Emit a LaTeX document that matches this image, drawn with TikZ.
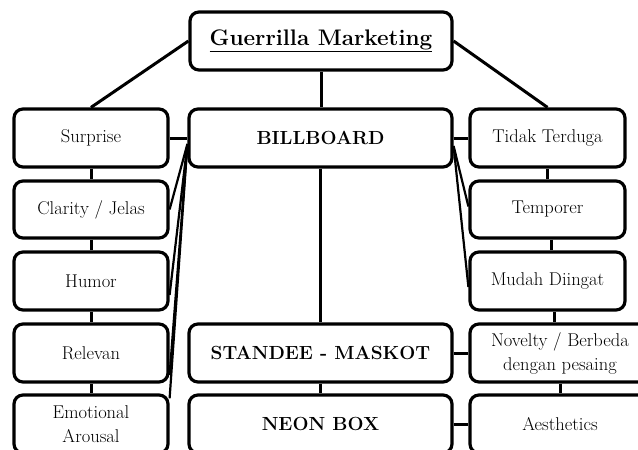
\documentclass[tikz,border=0pt]{standalone}
\usepackage{fontspec}
\begin{document}
\begin{tikzpicture}[x=1pt,y=-1pt,
  box/.style={draw, line width=3.2pt, rounded corners=9pt, inner sep=0pt, align=center,
    font=\fontsize{18.5}{24}\selectfont},
  bbox/.style={box, font=\fontsize{19}{24}\selectfont\bfseries},
  link/.style={line width=3pt},
  fan/.style={line width=2.2pt}]
\useasboundingbox (0,0) rectangle (638,450);
\clip (0,0) rectangle (638,450);
% boxes
\node[box, minimum width=262pt, minimum height=58pt, font=\fontsize{22.5}{26}\selectfont\bfseries] (gm) at (321,41) {\underline{Guerrilla Marketing}};
\node[box, minimum width=154pt, minimum height=58pt] (sur) at (91,138) {Surprise};
\node[box, minimum width=154pt, minimum height=57pt] (cla) at (91,209.5) {Clarity / Jelas};
\node[box, minimum width=154pt, minimum height=58pt] (hum) at (91,281) {Humor};
\node[box, minimum width=154pt, minimum height=58pt] (rel) at (91,353) {Relevan};
\node[box, minimum width=154pt, minimum height=58pt] (emo) at (91,424) {Emotional\\Arousal};
\node[bbox, minimum width=263pt, minimum height=58pt] (bil) at (320.5,138) {BILLBOARD};
\node[bbox, minimum width=263pt, minimum height=58pt] (sta) at (320.5,353) {STANDEE - MASKOT};
\node[bbox, minimum width=263pt, minimum height=58pt] (neo) at (320.5,424) {NEON BOX};
\node[box, minimum width=155pt, minimum height=58pt] (tid) at (547.5,138) {Tidak Terduga};
\node[box, minimum width=155pt, minimum height=57pt] (tem) at (547.5,209.5) {Temporer};
\node[box, minimum width=155pt, minimum height=58pt] (mud) at (547.5,281) {Mudah Diingat};
\node[box, minimum width=180pt, minimum height=58pt] (nov) at (560,353) {Novelty / Berbeda\\dengan pesaing};
\node[box, minimum width=180pt, minimum height=58pt] (aes) at (560,424) {Aesthetics};
% connectors
\draw[link] (gm.west) -- (sur.north);
\draw[link] (gm.east) -- (tid.north);
\draw[link] (gm.south) -- (gm.south |- bil.north);
\draw[link] (bil.south) -- (sta.north);
\draw[link] (sta.south) -- (neo.north);
\draw[link] (sur.east) -- (bil.west);
\draw[link] (bil.east) -- (tid.west);
\draw[link] (sta.east) -- (nov.west);
\draw[link] (neo.east) -- (aes.west);
\draw[link] (sur.south) -- (cla.north);
\draw[link] (cla.south) -- (hum.north);
\draw[link] (hum.south) -- (rel.north);
\draw[link] (rel.south) -- (emo.north);
\draw[link] (tid.south) -- (tem.north);
\draw[link] ([xshift=4pt]tem.south) -- ([xshift=4pt]tem.south |- mud.north);
\draw[link] ([xshift=7pt]mud.south) -- ([xshift=7pt]mud.south |- nov.north);
\draw[link] (nov.south) -- (aes.north);
% fan lines
\coordinate (bl) at ([yshift=-6pt]bil.west);
\coordinate (br) at ([yshift=-8pt]bil.east);
\draw[fan] (bl) -- (cla.east);
\draw[fan] (bl) -- ([yshift=-14pt]hum.east);
\draw[fan] (bl) -- ([yshift=-22pt]rel.east);
\draw[fan] (bl) -- ([yshift=-5pt]emo.north east);
\draw[fan] (br) -- ([yshift=3pt]tem.west);
\draw[fan] (br) -- ([yshift=-6pt]mud.west);
\end{tikzpicture}
\end{document}
